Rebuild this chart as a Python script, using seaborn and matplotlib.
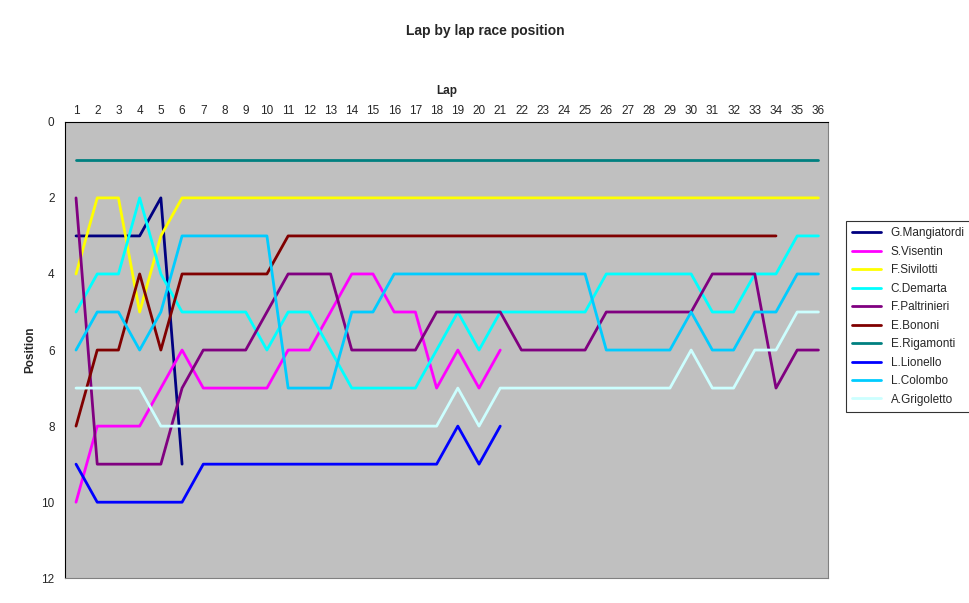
import matplotlib
matplotlib.use("Agg")
import matplotlib.pyplot as plt
import seaborn as sns
import pandas as pd
import numpy as np

drivers = ["G.Mangiatordi", "S.Visentin", "F.Sivilotti", "C.Demarta", "F.Paltrinieri",
           "E.Bononi", "E.Rigamonti", "L.Lionello", "L.Colombo", "A.Grigoletto"]
colors = ["#000080", "#FF00FF", "#FFFF00", "#00FFFF", "#800080",
          "#800000", "#008080", "#0000FF", "#00CCFF", "#CCFFFF"]

mangiatordi = [3, 3, 3, 3, 2, 9]
visentin = [10, 8, 8, 8, 7, 6, 7, 7, 7, 7, 6, 6, 5, 4, 4, 5, 5, 7, 6, 7, 6]
sivilotti = [4, 2, 2, 5, 3] + [2] * 31
demarta = [5, 4, 4, 2, 4, 5, 5, 5, 5, 6, 5, 5, 6, 7, 7, 7, 7, 6, 5, 6, 5,
           5, 5, 5, 5, 4, 4, 4, 4, 4, 5, 5, 4, 4, 3, 3]
paltrinieri = [2, 9, 9, 9, 9, 7, 6, 6, 6, 5, 4, 4, 4, 6, 6, 6, 6, 5, 5, 5, 5,
               6, 6, 6, 6, 5, 5, 5, 5, 5, 4, 4, 4, 7, 6, 6]
bononi = [8, 6, 6, 4, 6, 4, 4, 4, 4, 4] + [3] * 24
rigamonti = [1] * 36
lionello = [9, 10, 10, 10, 10, 10, 9, 9, 9, 9, 9, 9, 9, 9, 9, 9, 9, 9, 8, 9, 8]
colombo = [6, 5, 5, 6, 5, 3, 3, 3, 3, 3, 7, 7, 7, 5, 5, 4, 4, 4, 4, 4, 4,
           4, 4, 4, 4, 6, 6, 6, 6, 5, 6, 6, 5, 5, 4, 4]
grigoletto = [7, 7, 7, 7, 8, 8, 8, 8, 8, 8, 8, 8, 8, 8, 8, 8, 8, 8, 7, 8, 7,
              7, 7, 7, 7, 7, 7, 7, 7, 6, 7, 7, 6, 6, 5, 5]

series = [mangiatordi, visentin, sivilotti, demarta, paltrinieri,
          bononi, rigamonti, lionello, colombo, grigoletto]
rows = []
for name, vals in zip(drivers, series):
    for i, v in enumerate(vals):
        rows.append({"Lap": i + 1, "Position": v, "Driver": name})
df = pd.DataFrame(rows)

sns.set_style("white")
plt.rcParams["font.family"] = ["Liberation Sans", "DejaVu Sans"]

fig = plt.figure(figsize=(9.7, 6.03), dpi=100)
ax = fig.add_axes([0.067, 0.041, 0.787, 0.757])
ax.set_facecolor("#C0C0C0")
sns.lineplot(data=df, x="Lap", y="Position", hue="Driver", hue_order=drivers,
             palette=colors, linewidth=2, ax=ax, legend=True)

ax.set_xlim(0.48, 36.47)
ax.set_ylim(12, 0)
ax.set_yticks(range(0, 13, 2))
ax.set_xticks(range(1, 37))
ax.xaxis.tick_top()
ax.xaxis.set_label_position("top")
ax.tick_params(axis="both", labelsize=8.5, length=4, direction="out", color="black")
ax.tick_params(axis="x", length=0)
ax.set_xlabel("Lap", fontsize=8.5, fontweight="bold", labelpad=8)
ax.set_ylabel("Position", fontsize=8.5, fontweight="bold")
for s in ax.spines.values():
    s.set_color("#808080")
ax.spines["left"].set_color("black")
ax.spines["top"].set_color("black")

leg = ax.legend(loc="upper left", bbox_to_anchor=(1.015, 0.795), fontsize=8.5,
                frameon=True, fancybox=False, edgecolor="black",
                handlelength=2.5, labelspacing=0.55, borderpad=0.5)
leg.get_frame().set_linewidth(0.8)

fig.text(0.5, 0.948, "Lap by lap race position", ha="center", va="center",
         fontsize=10, fontweight="bold")
fig.savefig("out.png", dpi=100)
